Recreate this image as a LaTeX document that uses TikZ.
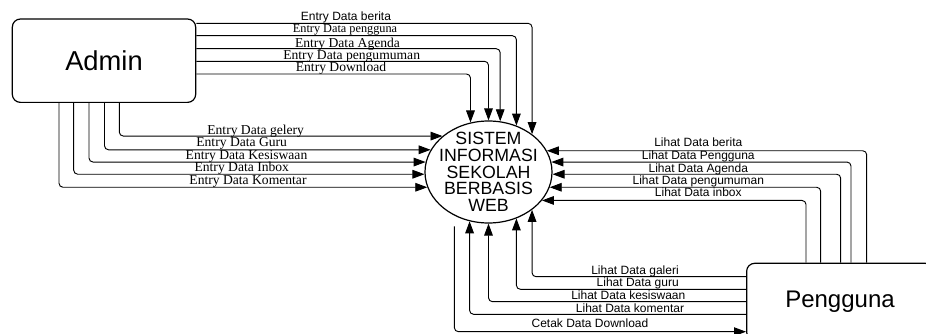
\documentclass[tikz,border=0pt]{standalone}
\usepackage{fontspec}
\setmainfont{Liberation Serif}
\setsansfont{Liberation Sans}
\usetikzlibrary{arrows.meta,shapes.geometric}

\tikzset{
    entitas/.style={draw, line width=0.9pt, rounded corners=6pt, inner sep=0pt},
    proses/.style={draw, ellipse, line width=0.9pt, inner sep=0pt, minimum width=95.25pt, minimum height=76.5pt},
    alir/.style={draw, line width=0.7pt, rounded corners=3pt, -{Triangle[length=9pt,width=6.5pt]}},
    ketsans/.style={anchor=base, inner sep=0pt, font=\sffamily\fontsize{9}{10}\selectfont},
    ketserif/.style={anchor=base, inner sep=0pt, font=\rmfamily\fontsize{10.2}{12}\selectfont},
}

\begin{document}
\begin{tikzpicture}[x=0.75pt, y=-0.75pt]
    \useasboundingbox (0,0) rectangle (926,333);

    \node[entitas, font=\sffamily\fontsize{20.5}{24}\selectfont, minimum width=137.5pt, minimum height=62.5pt] (admin) at (104,60.7) {Admin};
    \node[proses, label={[name=judul, align=center, font=\sffamily\fontsize{13.3}{12.6}\selectfont]center:SISTEM\\INFORMASI\\SEKOLAH\\BERBASIS\\WEB}] (sistem) at (488.5,172) {};
    \node[entitas, font=\sffamily\fontsize{18}{22}\selectfont, minimum width=140pt, minimum height=57.6pt] (pengguna) at (840,301.7) {Pengguna};

    \draw[alir] (admin.east |- 0,23.3) -| (sistem.41);
    \node[ketsans] (eberita) at (346,20) {Entry Data berita};
    \draw[alir] (admin.east |- 0,35.7) -| (sistem.59);
    \node[ketserif, font=\rmfamily\fontsize{9.2}{11}\selectfont] (epengguna) at (345,32.4) {Entry Data pengguna};
    \draw[alir] (admin.east |- 0,48.7) -| (sistem.77);
    \node[ketserif] (eagenda) at (347.5,47.2) {Entry Data Agenda};
    \draw[alir] (admin.east |- 0,61.3) -| (sistem.90);
    \node[ketserif] (epengumuman) at (351.7,59.4) {Entry Data pengumuman};
    \draw[alir] (admin.east |- 0,74) -| (sistem.110);
    \node[ketserif] (edownload) at (341,71.7) {Entry Download};

    \draw[alir] (admin.south -| 119.3,0) |- (sistem.142);
    \node[ketserif] (egelery) at (255.7,134.3) {Entry Data gelery};
    \draw[alir] (admin.south -| 104.5,0) |- (sistem.159);
    \node[ketserif] (eguru) at (241.7,146.8) {Entry Data Guru};
    \draw[alir] (admin.south -| 89,0) |- (sistem.171);
    \node[ketserif] (ekesiswaan) at (246.5,159.3) {Entry Data Kesiswaan};
    \draw[alir] (admin.south -| 73.7,0) |- (sistem.182);
    \node[ketserif] (einbox) at (241.8,171) {Entry Data Inbox};
    \draw[alir] (admin.south -| 59,0) |- (sistem.194);
    \node[ketserif] (ekomentar) at (248,184.3) {Entry Data Komentar};

    \draw[alir] (pengguna.north -| 866.7,0) |- (sistem.20);
    \node[ketsans] (lberita) at (698.3,146.8) {Lihat Data berita};
    \draw[alir] (pengguna.north -| 851,0) |- (sistem.9);
    \node[ketsans] (lpengguna) at (698.3,159.8) {Lihat Data Pengguna};
    \draw[alir] (pengguna.north -| 840.7,0) |- (sistem.-2);
    \node[ketsans] (lagenda) at (698.3,172.2) {Lihat Data Agenda};
    \draw[alir] (pengguna.north -| 820.7,0) |- (sistem.-14);
    \node[ketsans] (lpengumuman) at (698.3,184.2) {Lihat Data pengumuman};
    \draw[alir] (pengguna.north -| 806,0) |- (sistem.-28);
    \node[ketsans] (linbox) at (698.3,196.8) {Lihat Data inbox};

    \draw[alir] (pengguna.west |- 0,276.7) -| (sistem.-41);
    \node[ketsans] (lgaleri) at (635,274.3) {Lihat Data galeri};
    \draw[alir] (pengguna.west |- 0,289.3) -| (sistem.-59);
    \node[ketsans] (lguru) at (637.7,286.5) {Lihat Data guru};
    \draw[alir] (pengguna.west |- 0,301.7) -| (sistem.-90);
    \node[ketsans] (lkesiswaan) at (628.3,299.2) {Lihat Data kesiswaan};
    \draw[alir] (pengguna.west |- 0,314.3) -| (sistem.249);
    \node[ketsans] (lkomentar) at (630,312) {Lihat Data komentar};
    \draw[alir, shorten <=8pt] (sistem.232) |- (pengguna.west |- 0,331.7);
    \node[ketsans] (cdownload) at (590,327) {Cetak Data Download};
\end{tikzpicture}
\end{document}
